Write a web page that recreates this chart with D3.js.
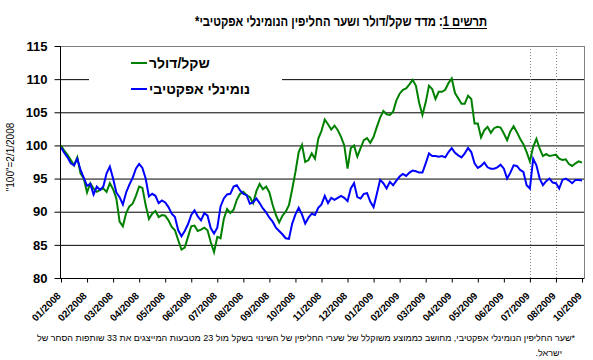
<!DOCTYPE html>
<html><head><meta charset="utf-8">
<script src="https://cdn.jsdelivr.net/npm/d3@7"></script>
<style>body{margin:0;background:#fff}svg{display:block}</style>
</head><body><svg id="c" width="593" height="360"></svg>
<script>
const tickLabels = ["01/2008","02/2008","03/2008","04/2008","05/2008","06/2008","07/2008","08/2008","09/2008","10/2008","11/2008","12/2008","01/2009","02/2009","03/2009","04/2009","05/2009","06/2009","07/2009","08/2009","10/2009"];
const pointsPerTick = 8;
const dollarIndex = [
100.0,99.2,98.6,97.8,97.0,98.2,95.8,95.0,92.9,94.3,
93.5,93.0,93.3,93.5,93.0,94.3,93.4,92.0,88.5,87.8,
89.8,90.8,91.2,92.4,93.8,93.6,91.0,88.9,89.7,90.1,
89.2,89.5,89.4,88.7,87.7,87.2,85.7,84.3,84.6,86.2,
87.8,87.9,87.1,87.3,87.6,87.2,85.4,83.9,86.2,86.0,
88.9,90.4,89.8,90.3,91.8,92.7,93.0,92.5,92.2,91.3,
93.1,94.2,93.4,93.8,92.9,91.0,89.5,88.4,89.4,90.0,
91.0,93.4,96.0,99.0,100.1,97.5,97.8,98.8,98.0,101.0,
102.2,103.9,103.2,102.4,103.0,102.3,101.3,100.0,96.5,99.6,
100.0,98.3,99.6,100.8,101.1,100.4,101.3,102.8,104.2,105.2,
104.7,104.6,105.1,106.8,107.8,108.4,108.6,109.2,109.9,109.0,
106.4,104.6,106.5,109.0,108.5,107.0,108.1,108.1,108.4,109.4,
110.1,107.9,107.1,106.3,106.3,107.5,107.0,103.3,103.3,101.2,
102.3,102.8,101.9,102.6,102.8,102.7,101.8,100.8,102.1,102.9,
102.0,101.0,100.2,99.0,97.6,99.8,101.0,99.5,98.4,98.7,
98.4,98.5,98.6,98.0,97.8,97.9,97.2,96.9,97.3,97.6,97.4];
const effectiveIndex = [
99.7,98.9,98.2,97.3,97.0,98.0,96.3,95.1,93.9,94.2,
92.6,93.8,93.3,93.8,95.8,96.8,95.0,92.9,92.2,91.1,
92.9,94.1,95.1,96.5,97.2,96.6,95.0,92.3,92.7,92.4,
91.3,91.7,91.4,90.7,89.7,89.2,87.2,86.3,87.1,88.1,
89.5,90.2,89.3,88.7,89.8,89.4,87.5,86.7,87.6,90.8,
92.0,92.6,92.7,93.8,94.0,93.2,92.7,92.5,91.2,91.4,
92.0,91.3,90.5,89.9,89.1,88.5,87.6,87.1,86.6,86.0,
85.9,88.2,89.6,90.6,89.6,88.2,89.1,89.7,89.5,90.6,
91.1,92.4,91.3,92.1,91.8,92.1,92.4,92.1,91.6,93.5,
94.3,92.2,92.0,92.7,92.8,91.5,90.7,92.7,94.8,94.3,
93.5,94.5,94.0,94.7,95.3,95.7,95.4,95.9,96.2,96.1,
95.9,95.9,97.3,98.8,98.4,98.4,98.3,98.4,98.2,99.0,
99.6,98.9,98.5,98.2,98.8,99.6,99.0,97.3,96.6,96.9,
97.4,96.7,96.5,96.5,96.7,97.1,96.5,95.0,95.9,97.0,
96.9,96.3,96.0,94.0,93.5,98.0,97.0,95.0,94.0,94.6,
95.0,94.4,94.3,93.5,94.8,95.0,94.7,94.3,94.8,94.8,94.7];
const yTicks = [80,85,90,95,100,105,110,115];
const gridValues = [85,90,95,100,105,110];
const markerTicks = ["07/2009","08/2009"];
const seriesNames = ["שקל/דולר","נומינלי אפקטיבי"];
const seriesColors = ["#008000","#0000ff"];
const titleText = "תרשים 1: מדד שקל/דולר ושער החליפין הנומינלי אפקטיבי*";
const titleUnderlined = "תרשים 1";
const yTitle = '"100"=2/1/2008';
const footnoteLines = ["*שער החליפין הנומינלי אפקטיבי, מחושב כממוצע משוקלל של שערי החליפין של השינוי בשקל מול 23 מטבעות המייצגים את 33 שותפות הסחר של","ישראל."];

const FONT = "Arial, 'Liberation Sans', 'DejaVu Sans', sans-serif";
const svg = d3.select("#c");
svg.append("rect").attr("width",593).attr("height",360).attr("fill","#fff");
const L = 60, R = 584, T = 46, B = 278;
const nPts = (tickLabels.length-1)*pointsPerTick;
const x = d3.scaleLinear().domain([0,nPts]).range([61,582]);
const y = d3.scaleLinear().domain([80,115]).range([B,T]);

function rightText(str, right, yy, size, bold, fitWidth){
  const t = svg.append("text").attr("y",yy).attr("direction","rtl").attr("text-anchor","middle")
    .attr("font-family",FONT).attr("font-size",size).attr("font-weight",bold?"bold":"normal").text(str);
  let w = t.node().getComputedTextLength();
  if (fitWidth){ t.attr("textLength",fitWidth).attr("lengthAdjust","spacingAndGlyphs"); w = fitWidth; }
  t.attr("x", right - w/2);
  return t;
}

// gridlines
svg.append("g").selectAll("line").data(gridValues).join("line")
  .attr("x1",L).attr("x2",R).attr("y1",d=>y(d)+0.5).attr("y2",d=>y(d)+0.5)
  .attr("stroke","#000").attr("stroke-width",1);
svg.append("line").attr("x1",L).attr("x2",R+0.5).attr("y1",y(115)+0.5).attr("y2",y(115)+0.5).attr("stroke","#808080");
svg.append("line").attr("x1",R+0.5).attr("x2",R+0.5).attr("y1",T).attr("y2",B).attr("stroke","#808080");
svg.append("g").selectAll("line").data(markerTicks).join("line")
  .attr("x1",d=>Math.round(x(tickLabels.indexOf(d)*pointsPerTick))+0.5)
  .attr("x2",d=>Math.round(x(tickLabels.indexOf(d)*pointsPerTick))+0.5)
  .attr("y1",T).attr("y2",B).attr("stroke","#808080").attr("stroke-dasharray","1,2");

// legend
const lg = svg.append("g");
lg.append("rect").attr("x",89).attr("y",T+1).attr("width",193).attr("height",58).attr("fill","#fff");
seriesNames.forEach((name,i)=>{
  const yy = 63 + i*26;
  lg.append("line").attr("x1",131).attr("x2",147).attr("y1",yy).attr("y2",yy)
    .attr("stroke",seriesColors[i]).attr("stroke-width",2);
  lg.append("text").attr("x",149).attr("y",yy+5).attr("direction","rtl").attr("text-anchor","end")
    .attr("font-family",FONT).attr("font-weight","bold").attr("font-size",14).text(name);
});

// series
const line = d3.line().x((d,i)=>x(i)).y(d=>y(d));
[dollarIndex,effectiveIndex].forEach((s,i)=>{
  svg.append("path").datum(s).attr("d",line).attr("fill","none")
    .attr("stroke",seriesColors[i]).attr("stroke-width",2);
});

// y axis
const ya = svg.append("g").attr("transform",`translate(${L+0.5},0)`)
  .call(d3.axisLeft(y).tickValues(yTicks).tickSize(6).tickPadding(7).tickFormat(d3.format("d")));
ya.select(".domain").attr("stroke","#000").attr("d",`M0,${T}V${B+0.5}`);
ya.selectAll(".tick line").attr("stroke","#000");
ya.selectAll(".tick text").attr("font-family",FONT).attr("font-weight","bold").attr("font-size",13).attr("fill","#000");

// x axis
const xa = svg.append("g").attr("transform",`translate(0,${B+0.5})`)
  .call(d3.axisBottom(x).tickValues(tickLabels.map((d,i)=>i*pointsPerTick)).tickSize(4)
    .tickFormat((d,i)=>tickLabels[i]));
xa.select(".domain").attr("stroke","#000").attr("d",`M${L},0H${R+0.5}`);
xa.selectAll(".tick line").attr("stroke","#000");
xa.selectAll(".tick text").attr("font-family",FONT).attr("font-weight","bold").attr("font-size",10)
  .attr("fill","#000").attr("text-anchor","end").attr("dy",0).attr("y",0)
  .attr("transform","translate(0,18) rotate(-45)");

// y title
svg.append("text").attr("transform","translate(14,157) rotate(-90)").attr("text-anchor","middle")
  .attr("font-family",FONT).attr("font-size",10).text(yTitle);

// title
const titleW = 292, titleRight = 487;
const meas = svg.append("text").attr("font-family",FONT).attr("font-weight","bold").attr("font-size",14).attr("direction","rtl");
const fullW = meas.text(titleText).node().getComputedTextLength();
const partW = meas.text(titleUnderlined).node().getComputedTextLength();
meas.remove();
rightText(titleText, titleRight, 26, 14, true, titleW);
const uw = partW*titleW/fullW;
svg.append("line").attr("x1",titleRight-uw).attr("x2",titleRight).attr("y1",28.5).attr("y2",28.5).attr("stroke","#000");

// footnote
rightText(footnoteLines[0], 575, 341, 9, false, 538);
rightText(footnoteLines[1], 562, 356, 9, false);
</script></body></html>
